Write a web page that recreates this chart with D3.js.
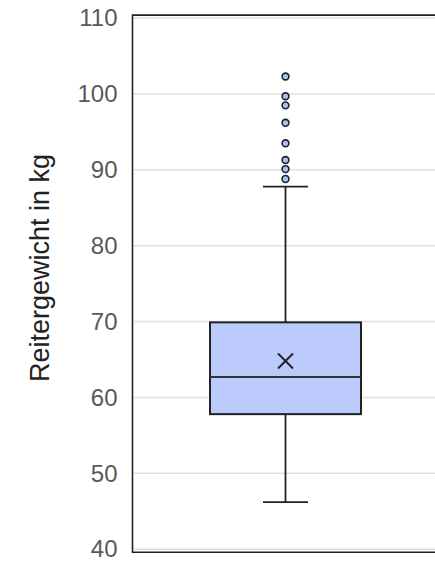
<!DOCTYPE html>
<html><head><meta charset="utf-8">
<script src="https://cdn.jsdelivr.net/npm/d3@7"></script>
<style>html,body{margin:0;padding:0;background:#fff;}</style>
</head><body>
<svg id="chart" width="435" height="562"></svg>
<script>
const yTicks = [40, 50, 60, 70, 80, 90, 100, 110];
const category = ["Reitergewicht"];
const whiskerLow = [46.2];
const q1 = [57.8];
const median = [62.7];
const q3 = [69.9];
const whiskerHigh = [87.8];
const mean = [64.8];
const outliers = [88.8, 90.1, 91.3, 93.5, 96.2, 98.5, 99.7, 102.3];
const yLabel = "Reitergewicht in kg";

(function () {
const svg = d3.select("#chart");
const pLeft = 134, pRight = 437, pTop = 18.1, pBottom = 549.2;
const y = d3.scaleLinear().domain([40, 110]).range([pBottom, pTop]);
const x = d3.scaleBand().domain(category).range([pLeft, pRight]).paddingInner(0).paddingOuter(0.25);

svg.append("g").selectAll("line").data(yTicks).join("line")
  .attr("x1", pLeft).attr("x2", pRight)
  .attr("y1", d => y(d)).attr("y2", d => y(d))
  .attr("stroke", "#e0e0e0").attr("stroke-width", 1.5);

svg.append("path")
  .attr("d", `M${pRight+3},${pTop-3} H${pLeft-1.5} V${pBottom+3} H${pRight+3}`)
  .attr("fill", "none").attr("stroke", "#222").attr("stroke-width", 1.6);

const yAxis = d3.axisLeft(y).tickValues(yTicks).tickSize(0).tickPadding(15);
const ga = svg.append("g").attr("transform", `translate(${pLeft-1.5},0)`).call(yAxis);
ga.select(".domain").remove();
ga.selectAll("text").attr("font-family", "'Liberation Sans', Arial, sans-serif")
  .attr("font-size", 24).attr("fill", "#595959");

svg.append("text")
  .attr("transform", `translate(49,268) rotate(-90)`)
  .attr("text-anchor", "middle")
  .attr("font-family", "'Liberation Sans', Arial, sans-serif")
  .attr("font-size", 27).attr("fill", "#222")
  .text(yLabel);

const cx = x(category[0]) + x.bandwidth() / 2;
const boxW = 151, capW = 45;
const stroke = "#222";

category.forEach((c, i) => {
  const g = svg.append("g");
  g.append("line").attr("x1", cx).attr("x2", cx).attr("y1", y(q3[i])).attr("y2", y(whiskerHigh[i]))
    .attr("stroke", stroke).attr("stroke-width", 1.8);
  g.append("line").attr("x1", cx).attr("x2", cx).attr("y1", y(q1[i])).attr("y2", y(whiskerLow[i]))
    .attr("stroke", stroke).attr("stroke-width", 1.8);
  [whiskerHigh[i], whiskerLow[i]].forEach(v => {
    g.append("line").attr("x1", cx - capW/2).attr("x2", cx + capW/2).attr("y1", y(v)).attr("y2", y(v))
      .attr("stroke", stroke).attr("stroke-width", 1.8);
  });
  g.append("rect").attr("x", cx - boxW/2).attr("width", boxW)
    .attr("y", y(q3[i])).attr("height", y(q1[i]) - y(q3[i]))
    .attr("fill", "#bccbfb").attr("stroke", stroke).attr("stroke-width", 2);
  g.append("line").attr("x1", cx - boxW/2).attr("x2", cx + boxW/2)
    .attr("y1", y(median[i])).attr("y2", y(median[i]))
    .attr("stroke", "#333").attr("stroke-width", 2);
  const my = y(mean[i]), s = 7.5;
  g.append("path").attr("d", `M${cx-s},${my-s}L${cx+s},${my+s}M${cx-s},${my+s}L${cx+s},${my-s}`)
    .attr("stroke", stroke).attr("stroke-width", 2).attr("fill", "none");
  g.selectAll("circle").data(outliers).join("circle")
    .attr("cx", cx).attr("cy", d => y(d)).attr("r", 3.4)
    .attr("fill", "#a9bff7").attr("stroke", "#222").attr("stroke-width", 1.6);
});
})();
</script>
</body></html>
